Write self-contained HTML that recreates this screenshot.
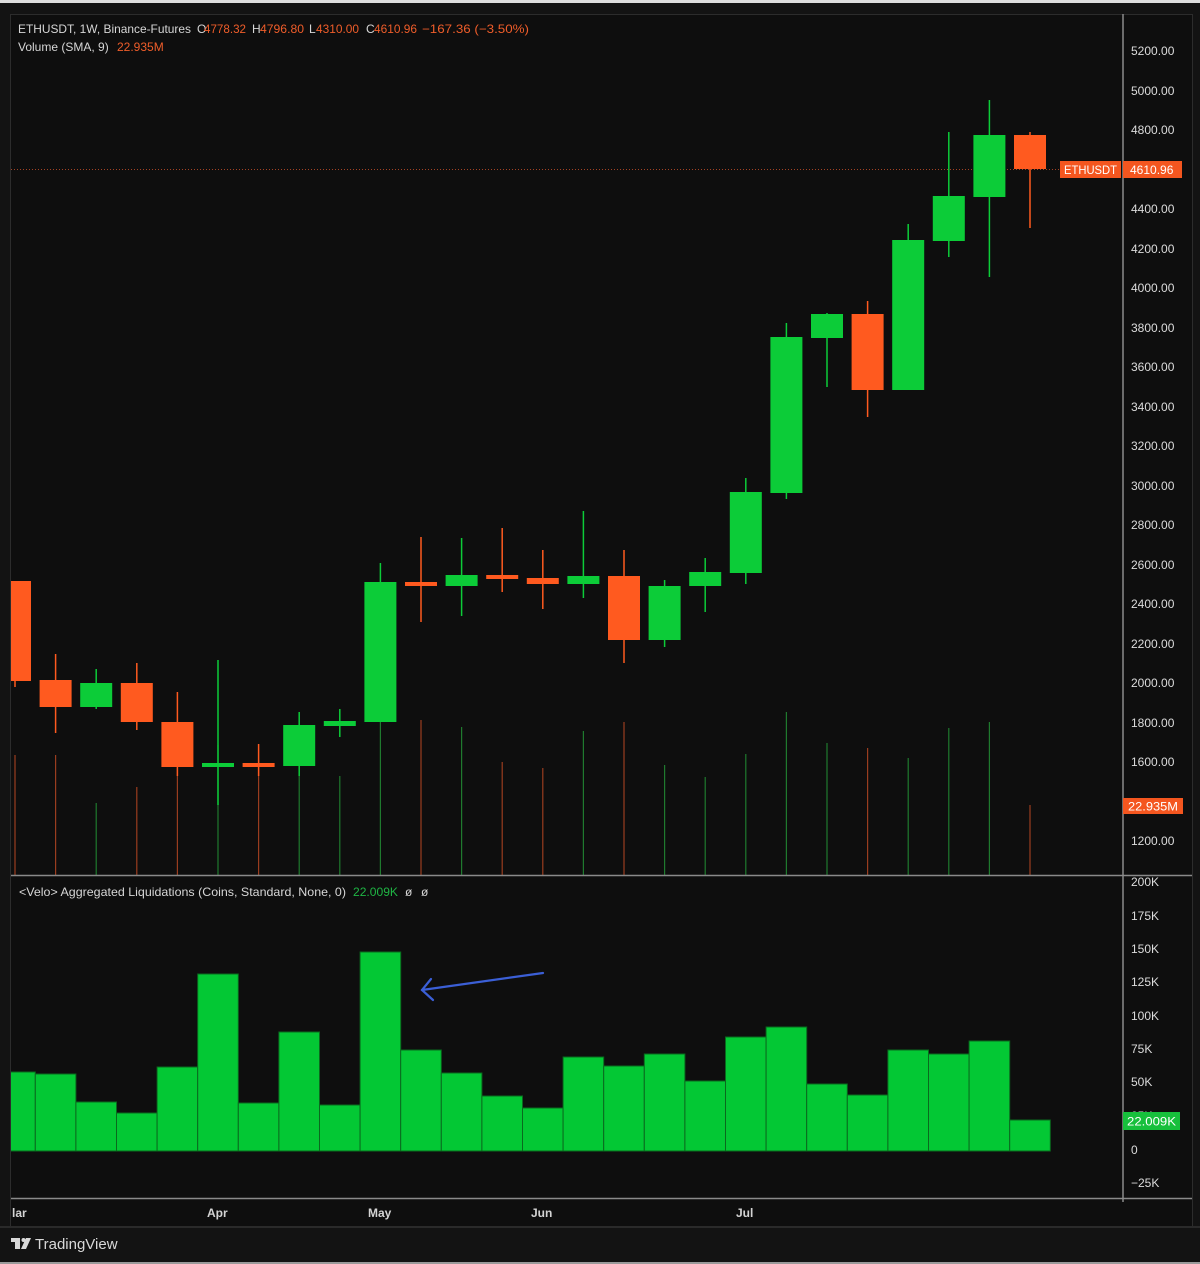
<!DOCTYPE html>
<html>
<head>
<meta charset="utf-8">
<style>
html,body{margin:0;padding:0;background:#131313;}
svg{display:block;}
text{font-family:"Liberation Sans",sans-serif;}
.ax{font-size:12px;fill:#dcdcdc;}
.lg{font-size:12px;fill:#d6d6d6;}
.or{font-size:12px;fill:#ef5d2a;}
</style>
</head>
<body>
<svg width="1200" height="1264" viewBox="0 0 1200 1264" xmlns="http://www.w3.org/2000/svg">
<defs>
<clipPath id="cp1"><rect x="11" y="15" width="1111.5" height="860"/></clipPath>
<clipPath id="cp2"><rect x="11" y="876" width="1111.5" height="322"/></clipPath>
</defs>
<rect x="0" y="0" width="1200" height="1264" fill="#131313"/>
<rect x="0" y="0" width="1200" height="3" fill="#dedede"/>
<rect x="0" y="1262" width="1200" height="2" fill="#9a9a9a"/>
<rect x="10.5" y="14.5" width="1182" height="1212" fill="#0e0e0e" stroke="#2c2c2c" stroke-width="1"/>

<line x1="11" y1="169.5" x2="1060" y2="169.5" stroke="#c9512a" stroke-width="1" stroke-dasharray="1,2" opacity="0.8"/>

<g clip-path="url(#cp1)">
<g stroke-width="1.2">
<line x1="15" y1="755" x2="15" y2="875" stroke="#9a3d1f"/>
<line x1="55.6" y1="755" x2="55.6" y2="875" stroke="#9a3d1f"/>
<line x1="96.2" y1="803" x2="96.2" y2="875" stroke="#1f7a2e"/>
<line x1="136.8" y1="787" x2="136.8" y2="875" stroke="#9a3d1f"/>
<line x1="177.4" y1="768" x2="177.4" y2="875" stroke="#9a3d1f"/>
<line x1="218" y1="745" x2="218" y2="875" stroke="#1f7a2e"/>
<line x1="258.6" y1="760" x2="258.6" y2="875" stroke="#9a3d1f"/>
<line x1="299.2" y1="740" x2="299.2" y2="875" stroke="#1f7a2e"/>
<line x1="339.8" y1="776" x2="339.8" y2="875" stroke="#1f7a2e"/>
<line x1="380.4" y1="722" x2="380.4" y2="875" stroke="#1f7a2e"/>
<line x1="421" y1="720" x2="421" y2="875" stroke="#9a3d1f"/>
<line x1="461.6" y1="727" x2="461.6" y2="875" stroke="#1f7a2e"/>
<line x1="502.2" y1="762" x2="502.2" y2="875" stroke="#9a3d1f"/>
<line x1="542.8" y1="768" x2="542.8" y2="875" stroke="#9a3d1f"/>
<line x1="583.4" y1="731" x2="583.4" y2="875" stroke="#1f7a2e"/>
<line x1="624" y1="722" x2="624" y2="875" stroke="#9a3d1f"/>
<line x1="664.6" y1="765" x2="664.6" y2="875" stroke="#1f7a2e"/>
<line x1="705.2" y1="777" x2="705.2" y2="875" stroke="#1f7a2e"/>
<line x1="745.8" y1="754" x2="745.8" y2="875" stroke="#1f7a2e"/>
<line x1="786.4" y1="712" x2="786.4" y2="875" stroke="#1f7a2e"/>
<line x1="827" y1="743" x2="827" y2="875" stroke="#1f7a2e"/>
<line x1="867.6" y1="748" x2="867.6" y2="875" stroke="#9a3d1f"/>
<line x1="908.2" y1="758" x2="908.2" y2="875" stroke="#1f7a2e"/>
<line x1="948.8" y1="728" x2="948.8" y2="875" stroke="#1f7a2e"/>
<line x1="989.4" y1="722" x2="989.4" y2="875" stroke="#1f7a2e"/>
<line x1="1030" y1="805" x2="1030" y2="875" stroke="#9a3d1f"/>
</g>
<g stroke-width="1.5">
<line x1="15" y1="581" x2="15" y2="687" stroke="#ff5a1f"/>
<line x1="55.6" y1="654" x2="55.6" y2="733" stroke="#ff5a1f"/>
<line x1="96.2" y1="669" x2="96.2" y2="709" stroke="#0ccc38"/>
<line x1="136.8" y1="663" x2="136.8" y2="730" stroke="#ff5a1f"/>
<line x1="177.4" y1="692" x2="177.4" y2="776" stroke="#ff5a1f"/>
<line x1="218" y1="660" x2="218" y2="805" stroke="#0ccc38"/>
<line x1="258.6" y1="744" x2="258.6" y2="776" stroke="#ff5a1f"/>
<line x1="299.2" y1="712" x2="299.2" y2="776" stroke="#0ccc38"/>
<line x1="339.8" y1="709" x2="339.8" y2="737" stroke="#0ccc38"/>
<line x1="380.4" y1="563" x2="380.4" y2="722" stroke="#0ccc38"/>
<line x1="421" y1="537" x2="421" y2="622" stroke="#ff5a1f"/>
<line x1="461.6" y1="538" x2="461.6" y2="616" stroke="#0ccc38"/>
<line x1="502.2" y1="528" x2="502.2" y2="592" stroke="#ff5a1f"/>
<line x1="542.8" y1="550" x2="542.8" y2="609" stroke="#ff5a1f"/>
<line x1="583.4" y1="511" x2="583.4" y2="598" stroke="#0ccc38"/>
<line x1="624" y1="550" x2="624" y2="663" stroke="#ff5a1f"/>
<line x1="664.6" y1="580" x2="664.6" y2="647" stroke="#0ccc38"/>
<line x1="705.2" y1="558" x2="705.2" y2="612" stroke="#0ccc38"/>
<line x1="745.8" y1="478" x2="745.8" y2="584" stroke="#0ccc38"/>
<line x1="786.4" y1="323" x2="786.4" y2="499" stroke="#0ccc38"/>
<line x1="827" y1="313" x2="827" y2="387" stroke="#0ccc38"/>
<line x1="867.6" y1="301" x2="867.6" y2="417" stroke="#ff5a1f"/>
<line x1="908.2" y1="224" x2="908.2" y2="390" stroke="#0ccc38"/>
<line x1="948.8" y1="132" x2="948.8" y2="257" stroke="#0ccc38"/>
<line x1="989.4" y1="100" x2="989.4" y2="277" stroke="#0ccc38"/>
<line x1="1030" y1="132" x2="1030" y2="228" stroke="#ff5a1f"/>
</g>
<g>
<rect x="-1" y="581" width="32" height="100" fill="#ff5a1f"/>
<rect x="39.6" y="680" width="32" height="27" fill="#ff5a1f"/>
<rect x="80.2" y="683" width="32" height="24" fill="#0ccc38"/>
<rect x="120.8" y="683" width="32" height="39" fill="#ff5a1f"/>
<rect x="161.4" y="722" width="32" height="45" fill="#ff5a1f"/>
<rect x="202" y="763" width="32" height="4" fill="#0ccc38"/>
<rect x="242.6" y="763" width="32" height="4" fill="#ff5a1f"/>
<rect x="283.2" y="725" width="32" height="41" fill="#0ccc38"/>
<rect x="323.8" y="721" width="32" height="5" fill="#0ccc38"/>
<rect x="364.4" y="582" width="32" height="140" fill="#0ccc38"/>
<rect x="405" y="582" width="32" height="4" fill="#ff5a1f"/>
<rect x="445.6" y="575" width="32" height="11" fill="#0ccc38"/>
<rect x="486.2" y="575" width="32" height="4" fill="#ff5a1f"/>
<rect x="526.8" y="578" width="32" height="6" fill="#ff5a1f"/>
<rect x="567.4" y="576" width="32" height="8" fill="#0ccc38"/>
<rect x="608" y="576" width="32" height="64" fill="#ff5a1f"/>
<rect x="648.6" y="586" width="32" height="54" fill="#0ccc38"/>
<rect x="689.2" y="572" width="32" height="14" fill="#0ccc38"/>
<rect x="729.8" y="492" width="32" height="81" fill="#0ccc38"/>
<rect x="770.4" y="337" width="32" height="156" fill="#0ccc38"/>
<rect x="811" y="314" width="32" height="24" fill="#0ccc38"/>
<rect x="851.6" y="314" width="32" height="76" fill="#ff5a1f"/>
<rect x="892.2" y="240" width="32" height="150" fill="#0ccc38"/>
<rect x="932.8" y="196" width="32" height="45" fill="#0ccc38"/>
<rect x="973.4" y="135" width="32" height="62" fill="#0ccc38"/>
<rect x="1014" y="135" width="32" height="34" fill="#ff5a1f"/>
</g>
</g>

<g clip-path="url(#cp2)" fill="#03c834" stroke="#0a6a1e" stroke-width="1">
<rect x="-5.3" y="1072" width="40.6" height="79"/>
<rect x="35.3" y="1074" width="40.6" height="77"/>
<rect x="75.9" y="1102" width="40.6" height="49"/>
<rect x="116.5" y="1113" width="40.6" height="38"/>
<rect x="157.1" y="1067" width="40.6" height="84"/>
<rect x="197.7" y="974" width="40.6" height="177"/>
<rect x="238.3" y="1103" width="40.6" height="48"/>
<rect x="278.9" y="1032" width="40.6" height="119"/>
<rect x="319.5" y="1105" width="40.6" height="46"/>
<rect x="360.1" y="952" width="40.6" height="199"/>
<rect x="400.7" y="1050" width="40.6" height="101"/>
<rect x="441.3" y="1073" width="40.6" height="78"/>
<rect x="481.9" y="1096" width="40.6" height="55"/>
<rect x="522.5" y="1108" width="40.6" height="43"/>
<rect x="563.1" y="1057" width="40.6" height="94"/>
<rect x="603.7" y="1066" width="40.6" height="85"/>
<rect x="644.3" y="1054" width="40.6" height="97"/>
<rect x="684.9" y="1081" width="40.6" height="70"/>
<rect x="725.5" y="1037" width="40.6" height="114"/>
<rect x="766.1" y="1027" width="40.6" height="124"/>
<rect x="806.7" y="1084" width="40.6" height="67"/>
<rect x="847.3" y="1095" width="40.6" height="56"/>
<rect x="887.9" y="1050" width="40.6" height="101"/>
<rect x="928.5" y="1054" width="40.6" height="97"/>
<rect x="969.1" y="1041" width="40.6" height="110"/>
<rect x="1009.7" y="1120" width="40.6" height="31"/>
</g>

<g stroke="#3b5fd6" stroke-width="2.2" fill="none" stroke-linecap="round">
<line x1="543" y1="973" x2="422" y2="990"/>
<polyline points="431,979 422,990 433,1000"/>
</g>

<line x1="11" y1="875.5" x2="1192" y2="875.5" stroke="#8a8a8a" stroke-width="1.5"/>
<line x1="11" y1="1198.5" x2="1192" y2="1198.5" stroke="#8a8a8a" stroke-width="1.5"/>
<line x1="1123" y1="14" x2="1123" y2="1202" stroke="#8a8a8a" stroke-width="1.5"/>
<line x1="0" y1="1227" x2="1200" y2="1227" stroke="#2a2a2a" stroke-width="2"/>

<text class="lg" x="18" y="33" textLength="173" lengthAdjust="spacingAndGlyphs">ETHUSDT, 1W, Binance-Futures</text>
<text class="lg" x="197" y="33">O</text>
<text class="or" x="204" y="33" textLength="42" lengthAdjust="spacingAndGlyphs">4778.32</text>
<text class="lg" x="252" y="33">H</text>
<text class="or" x="260" y="33" textLength="44" lengthAdjust="spacingAndGlyphs">4796.80</text>
<text class="lg" x="309" y="33">L</text>
<text class="or" x="316" y="33" textLength="43" lengthAdjust="spacingAndGlyphs">4310.00</text>
<text class="lg" x="366" y="33">C</text>
<text class="or" x="374" y="33" textLength="43" lengthAdjust="spacingAndGlyphs">4610.96</text>
<text class="or" x="422" y="33" textLength="107" lengthAdjust="spacingAndGlyphs">−167.36 (−3.50%)</text>
<text class="lg" x="18" y="51">Volume (SMA, 9)</text>
<text class="or" x="117" y="51">22.935M</text>

<text class="lg" x="19" y="896" textLength="327" lengthAdjust="spacingAndGlyphs">&lt;Velo&gt; Aggregated Liquidations (Coins, Standard, None, 0)</text>
<text x="353" y="896" font-size="12" fill="#1fb544" textLength="45" lengthAdjust="spacingAndGlyphs">22.009K</text>
<text class="lg" x="405" y="896">ø</text>
<text class="lg" x="421" y="896">ø</text>

<g>
<text class="ax" x="1131" y="55">5200.00</text>
<text class="ax" x="1131" y="95">5000.00</text>
<text class="ax" x="1131" y="134">4800.00</text>
<text class="ax" x="1131" y="213">4400.00</text>
<text class="ax" x="1131" y="253">4200.00</text>
<text class="ax" x="1131" y="292">4000.00</text>
<text class="ax" x="1131" y="332">3800.00</text>
<text class="ax" x="1131" y="371">3600.00</text>
<text class="ax" x="1131" y="411">3400.00</text>
<text class="ax" x="1131" y="450">3200.00</text>
<text class="ax" x="1131" y="490">3000.00</text>
<text class="ax" x="1131" y="529">2800.00</text>
<text class="ax" x="1131" y="569">2600.00</text>
<text class="ax" x="1131" y="608">2400.00</text>
<text class="ax" x="1131" y="648">2200.00</text>
<text class="ax" x="1131" y="687">2000.00</text>
<text class="ax" x="1131" y="727">1800.00</text>
<text class="ax" x="1131" y="766">1600.00</text>
<text class="ax" x="1131" y="845">1200.00</text>
</g>
<g>
<text class="ax" x="1131" y="886">200K</text>
<text class="ax" x="1131" y="920">175K</text>
<text class="ax" x="1131" y="953">150K</text>
<text class="ax" x="1131" y="986">125K</text>
<text class="ax" x="1131" y="1020">100K</text>
<text class="ax" x="1131" y="1053">75K</text>
<text class="ax" x="1131" y="1086">50K</text>
<text class="ax" x="1131" y="1120">25K</text>
<text class="ax" x="1131" y="1154">0</text>
<text class="ax" x="1131" y="1187">−25K</text>
</g>

<rect x="1060" y="161" width="61" height="17" fill="#f4561f"/>
<text x="1064" y="174" font-size="12" fill="#ffffff" textLength="53" lengthAdjust="spacingAndGlyphs">ETHUSDT</text>
<rect x="1123" y="161" width="59" height="17" fill="#f4561f"/>
<text x="1130" y="174" font-size="12" fill="#ffffff">4610.96</text>
<rect x="1123" y="798" width="60" height="16" fill="#f4561f"/>
<text x="1128" y="810.5" font-size="12" fill="#ffffff" textLength="50" lengthAdjust="spacingAndGlyphs">22.935M</text>
<rect x="1123" y="1112" width="57" height="18" fill="#17c03c"/>
<text x="1127" y="1125.5" font-size="12" fill="#ffffff" textLength="49" lengthAdjust="spacingAndGlyphs">22.009K</text>

<g font-size="12" font-weight="bold" fill="#d4d4d4">
<text x="12" y="1217">lar</text>
<text x="207" y="1217">Apr</text>
<text x="368" y="1217">May</text>
<text x="531" y="1217">Jun</text>
<text x="736" y="1217">Jul</text>
</g>

<g fill="#d8d8d8">
<rect x="11" y="1238" width="9" height="4"/>
<rect x="15" y="1238" width="5" height="11"/>
<circle cx="23.5" cy="1240" r="2"/>
<polygon points="26,1238 31,1238 26,1249 21,1249"/>
</g>
<text x="35" y="1249" font-size="15" fill="#d8d8d8">TradingView</text>
</svg>
</body>
</html>
